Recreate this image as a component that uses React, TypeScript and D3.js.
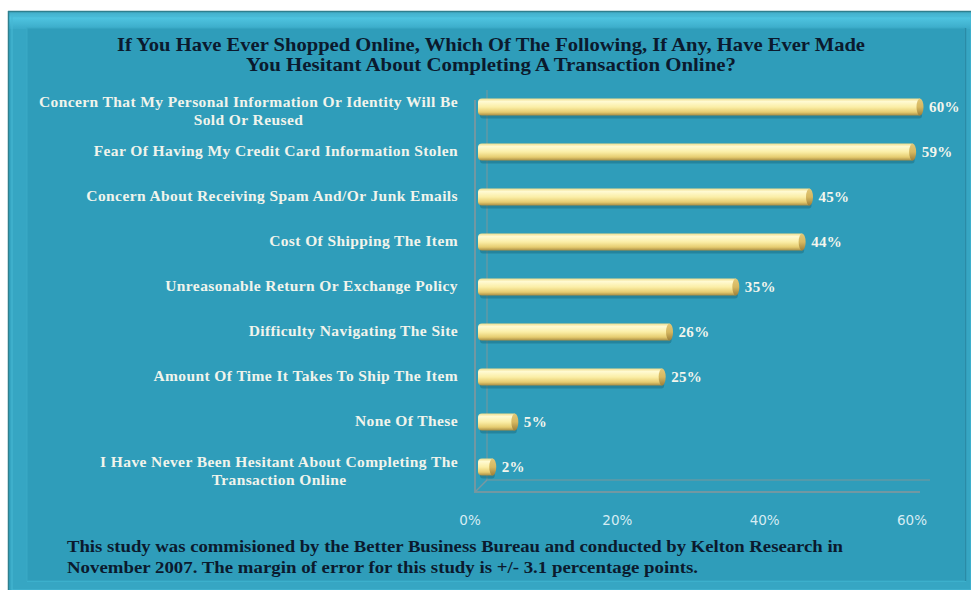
import React from "react";
import * as d3 from "d3";

const titleLines = [
  "If You Have Ever Shopped Online, Which Of The Following, If Any, Have Ever Made",
  "You Hesitant About Completing A Transaction Online?",
];
const categories = [
  "Concern That My Personal Information Or Identity Will Be|Sold Or Reused",
  "Fear Of Having My Credit Card Information Stolen",
  "Concern About Receiving Spam And/Or Junk Emails",
  "Cost Of Shipping The Item",
  "Unreasonable Return Or Exchange Policy",
  "Difficulty Navigating The Site",
  "Amount Of Time It Takes To Ship The Item",
  "None Of These",
  "I Have Never Been Hesitant About Completing The|Transaction Online",
];
const values = [60, 59, 45, 44, 35, 26, 25, 5, 2];
const tickValues = [0, 20, 40, 60];
const footerLines = [
  "This study was commisioned by the Better Business Bureau and conducted by Kelton Research in",
  "November 2007.  The margin of error for this study is +/- 3.1 percentage points.",
];

const W = 971;
const H = 590;

export default function App() {
  const x = d3.scaleLinear().domain([0, 60]).range([478, 920]);
  const y = d3
    .scaleBand<string>()
    .domain(categories)
    .range([84.5, 489.5])
    .paddingInner(0.62)
    .paddingOuter(0.31);
  const bh = y.bandwidth();
  const serif = "'Liberation Serif', 'DejaVu Serif', serif";
  const labelSize = 15.5;
  const ls = 0.4;

  return (
    <div style={{ position: "absolute", left: 0, top: 0, width: W, height: H }}>
      <svg width={W} height={H} style={{ display: "block" }}>
        <defs>
          <linearGradient id="barG" x1="0" y1="0" x2="0" y2="1">
            <stop offset="0" stopColor="#efdc8c" />
            <stop offset="0.18" stopColor="#fffad2" />
            <stop offset="0.5" stopColor="#fbeea6" />
            <stop offset="0.8" stopColor="#e6cc70" />
            <stop offset="1" stopColor="#a88c44" />
          </linearGradient>
          <linearGradient id="capG" x1="0" y1="0" x2="0" y2="1">
            <stop offset="0" stopColor="#e2c878" />
            <stop offset="0.5" stopColor="#d6b860" />
            <stop offset="1" stopColor="#9c7e38" />
          </linearGradient>
          <linearGradient id="bandTop" x1="0" y1="0" x2="0" y2="1">
            <stop offset="0" stopColor="#3fa9c4" />
            <stop offset="0.4" stopColor="#4ec3df" />
            <stop offset="1" stopColor="#3aaac8" />
          </linearGradient>
        </defs>
        <rect x={0} y={0} width={W} height={H} fill="#ffffff" />
        {/* outer frame */}
        <rect x={8} y={11} width={W - 8} height={H - 11} fill="#36a6c3" />
        <rect x={8} y={11} width={W - 8} height={18} fill="url(#bandTop)" />
        <line x1={8} y1={11.5} x2={W} y2={11.5} stroke="#2f7f8e" strokeWidth={1.5} />
        <line x1={8.5} y1={11} x2={8.5} y2={H} stroke="#2f7f8e" strokeWidth={1.5} />
        <rect x={12} y={16} width={W - 12} height={H - 16} fill="none" stroke="#46b8d4" strokeWidth={1} />
        {/* inner panel */}
        <rect x={27} y={28} width={938} height={553} fill="#2f9dba" stroke="#3aa9c6" strokeWidth={1} />
        <line x1={965.5} y1={28} x2={965.5} y2={581} stroke="#2a8ba6" strokeWidth={1.5} />
        <line x1={27} y1={581.5} x2={966} y2={581.5} stroke="#3cb0cc" strokeWidth={1} />

        {/* title */}
        {titleLines.map((t, i) => (
          <text
            key={i}
            x={491}
            y={51 + i * 20}
            textAnchor="middle"
            fontFamily={serif}
            fontWeight="bold"
            fontSize={19}
            textLength={i === 0 ? 748 : 490}
            lengthAdjust="spacingAndGlyphs"
            fill="#0b1a2e"
          >
            {t}
          </text>
        ))}

        {/* 3D wall & floor */}
        <path d="M487,90 L487,480 L930,480" fill="none" stroke="#6f97a0" strokeWidth={1.5} opacity={0.8} />
        <path d="M475,100 L475,492 L920,492" fill="none" stroke="#7a98a0" strokeWidth={2} opacity={0.9} />
        <path d="M475,492 L487,480" fill="none" stroke="#7a98a0" strokeWidth={1.5} />

        {/* bars */}
        {categories.map((c, i) => {
          const y0 = y(c)!;
          const x0 = x(0);
          const x1 = x(values[i]);
          const r = 4;
          return (
            <g key={c}>
              <rect x={x0 + 2} y={y0 + 3} width={x1 - x0} height={bh} rx={3} fill="#1d6f84" opacity={0.55} />
              <path
                d={`M${x1},${y0} L${x0 + r},${y0} Q${x0},${y0} ${x0},${y0 + r} L${x0},${y0 + bh - r} Q${x0},${y0 + bh} ${x0 + r},${y0 + bh} L${x1},${y0 + bh} Z`}
                fill="url(#barG)"
              />
              <ellipse cx={x1} cy={y0 + bh / 2} rx={3.5} ry={bh / 2} fill="url(#capG)" />
            </g>
          );
        })}

        {/* value labels */}
        {categories.map((c, i) => (
          <text
            key={c}
            x={x(values[i]) + 9}
            y={y(c)! + bh / 2 + 5}
            fontFamily={serif}
            fontWeight="bold"
            fontSize={15}
            letterSpacing={0.3}
            fill="#f4f6ee"
          >
            {values[i]}%
          </text>
        ))}

        {/* category labels */}
        {categories.map((c) => {
          const lines = c.split("|");
          const cy = y(c)! + bh / 2;
          if (lines.length === 1) {
            return (
              <text
                key={c}
                x={458}
                y={cy + 4}
                textAnchor="end"
                fontFamily={serif}
                fontWeight="bold"
                fontSize={labelSize}
                letterSpacing={ls}
                fill="#f1f4ec"
              >
                {c}
              </text>
            );
          }
          return (
            <g key={c}>
              <text
                x={458}
                y={cy}
                textAnchor="end"
                fontFamily={serif}
                fontWeight="bold"
                fontSize={labelSize}
                letterSpacing={ls}
                fill="#f1f4ec"
              >
                {lines[0]}
              </text>
              <text
                x={458}
                y={cy + 18}
                textAnchor="end"
                fontFamily={serif}
                fontWeight="bold"
                fontSize={labelSize}
                letterSpacing={ls}
                fill="#f1f4ec"
                ref={(el) => {
                  if (!el) return;
                  const prev = el.previousSibling as SVGTextElement | null;
                  if (!prev) return;
                  const w0 = prev.getComputedTextLength();
                  const w1 = el.getComputedTextLength();
                  el.setAttribute("x", String(458 - (w0 - w1) / 2));
                }}
              >
                {lines[1]}
              </text>
            </g>
          );
        })}

        {/* ticks */}
        {tickValues.map((t) => (
          <text
            key={t}
            x={x(t) - 8}
            y={525}
            textAnchor="middle"
            fontFamily="'DejaVu Sans', sans-serif"
            fontSize={13.5}
            fill="#d6ecf3"
          >
            {t}%
          </text>
        ))}

        {/* footer */}
        {footerLines.map((t, i) => (
          <text
            key={i}
            x={67}
            y={552 + i * 21}
            fontFamily={serif}
            fontWeight="bold"
            fontSize={16}
            textLength={i === 0 ? 776 : 631}
            lengthAdjust="spacingAndGlyphs"
            fill="#0b1a2e"
          >
            {t}
          </text>
        ))}
      </svg>
    </div>
  );
}
